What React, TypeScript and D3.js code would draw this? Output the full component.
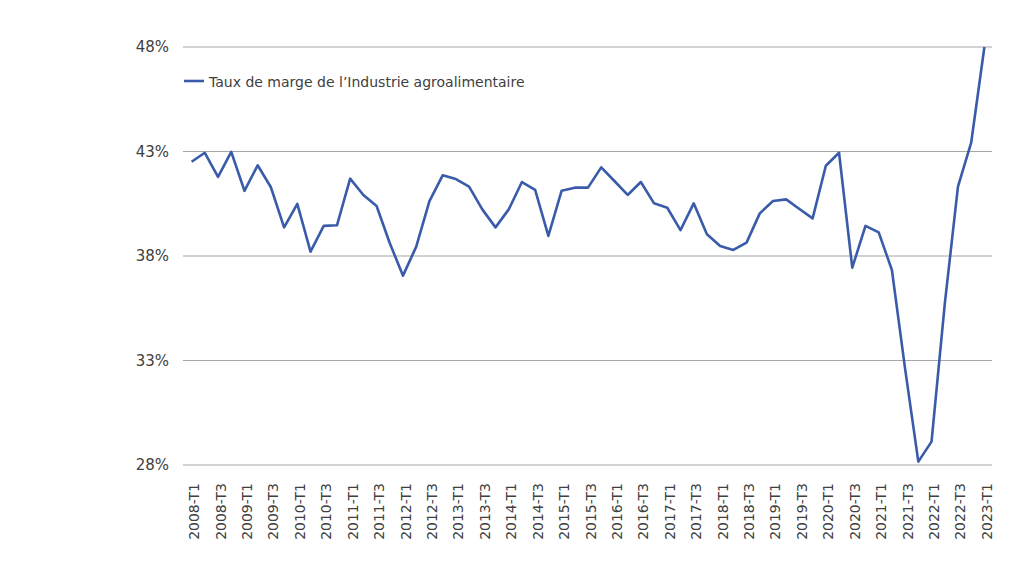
import React from "react";
import * as d3 from "d3";

const years = d3.range(2008, 2024);
const quarters = ["T1", "T2", "T3", "T4"];
const categories: string[] = [];
years.forEach((y) => quarters.forEach((q) => categories.push(`${y}-${q}`)));
categories.splice(61);

const values: number[] = [
  42.51, 42.94, 41.79, 42.98,
  41.12, 42.34, 41.29, 39.37,
  40.49, 38.21, 39.44, 39.47,
  41.70, 40.92, 40.39, 38.61,
  37.06, 38.45, 40.63, 41.86,
  41.68, 41.32, 40.23, 39.37,
  40.23, 41.54, 41.16, 38.96,
  41.12, 41.27, 41.27, 42.24,
  41.59, 40.92, 41.54, 40.52,
  40.31, 39.24, 40.52, 39.04,
  38.48, 38.29, 38.64, 40.04,
  40.63, 40.71, 40.25, 39.80,
  42.32, 42.94, 37.44, 39.44,
  39.13, 37.33, 32.6, 28.16,
  29.12, 35.7, 41.32, 43.42,
  48.0,
];

const yTicks = [28, 33, 38, 43, 48];
const seriesName = "Taux de marge de l\u2019Industrie agroalimentaire";

const W = 1024;
const H = 576;
const margin = { left: 185, right: 33, top: 47, bottom: 111 };

export default function App() {
  const x = d3
    .scalePoint<string>()
    .domain(categories)
    .range([margin.left, W - margin.right])
    .padding(0.5);
  const y = d3.scaleLinear().domain([28, 48]).range([H - margin.bottom, margin.top]);
  const line = d3
    .line<number>()
    .x((_, i) => x(categories[i]) as number)
    .y((d) => y(d));
  const font = "'DejaVu Sans', Verdana, sans-serif";
  const labelCats = categories.filter((c) => c.endsWith("T1") || c.endsWith("T3"));
  return (
    <svg
      width={W}
      height={H}
      style={{ position: "absolute", left: 0, top: 0, background: "#fff" }}
      fontFamily={font}
    >
      {yTicks.map((t) => (
        <g key={t}>
          <line
            x1={margin.left - 2}
            x2={W - margin.right + 1}
            y1={y(t)}
            y2={y(t)}
            stroke="#a6a6a6"
            strokeWidth={1.2}
          />
          <text
            x={169}
            y={y(t)}
            dy="0.35em"
            textAnchor="end"
            fontSize={15}
            fill="#404040"
          >
            {t}%
          </text>
        </g>
      ))}
      {labelCats.map((c) => (
        <text
          key={c}
          transform={`translate(${(x(c) as number) + 7.5},${483}) rotate(-90)`}
          textAnchor="end"
          fontSize={14}
          fill="#404040"
        >
          {c}
        </text>
      ))}
      <path d={line(values) || ""} fill="none" stroke="#3a5ba9" strokeWidth={2.6} strokeLinejoin="round" />
      <line x1={184} x2={204} y1={81} y2={81} stroke="#3a5ba9" strokeWidth={2.6} />
      <text x={209} y={82} dy="0.35em" fontSize={14} fill="#404040">
        {seriesName}
      </text>
    </svg>
  );
}
